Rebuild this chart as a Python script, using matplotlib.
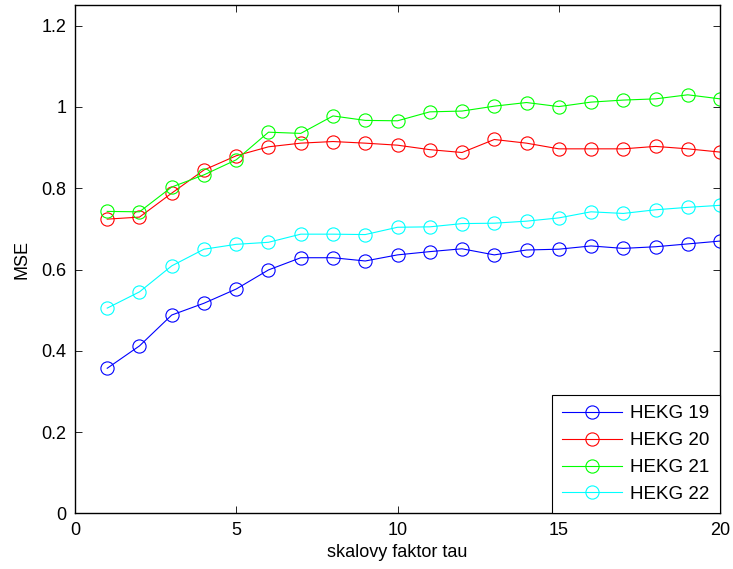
import matplotlib
matplotlib.use("Agg")
import matplotlib.pyplot as plt
from matplotlib.ticker import FixedLocator, FuncFormatter

plt.rcParams['font.family'] = ['Liberation Sans', 'DejaVu Sans']

tau = list(range(1, 21))
hekg19 = [0.357, 0.412, 0.488, 0.517, 0.552, 0.599, 0.629, 0.629, 0.621, 0.636,
          0.644, 0.651, 0.636, 0.648, 0.650, 0.658, 0.652, 0.656, 0.663, 0.670]
hekg20 = [0.724, 0.729, 0.788, 0.845, 0.880, 0.902, 0.911, 0.915, 0.911, 0.906,
          0.895, 0.888, 0.920, 0.911, 0.897, 0.897, 0.897, 0.903, 0.897, 0.889]
hekg21 = [0.743, 0.742, 0.803, 0.833, 0.870, 0.938, 0.935, 0.978, 0.967, 0.966,
          0.988, 0.990, 1.002, 1.011, 1.001, 1.012, 1.017, 1.020, 1.030, 1.020]
hekg22 = [0.505, 0.545, 0.609, 0.650, 0.662, 0.667, 0.687, 0.687, 0.686, 0.704,
          0.705, 0.713, 0.714, 0.719, 0.727, 0.742, 0.738, 0.747, 0.753, 0.758]
labels = ['HEKG 19', 'HEKG 20', 'HEKG 21', 'HEKG 22']
colors = ['#0000ff', '#ff0000', '#00ff00', '#00ffff']
xticks = [0, 5, 10, 15, 20]
yticks = [0, 0.2, 0.4, 0.6, 0.8, 1.0, 1.2]

fig = plt.figure(figsize=(7.33, 5.69), dpi=100)
ax = fig.add_axes([0.1023, 0.0979, 0.88, 0.8933])

for series, lab, col in zip([hekg19, hekg20, hekg21, hekg22], labels, colors):
    ax.plot(tau, series, color=col, linewidth=0.8, marker='o', markersize=9.5,
            markerfacecolor='none', markeredgecolor=col, markeredgewidth=0.8, label=lab)

ax.set_xlim(0, 20)
ax.set_ylim(0, 1.251)
ax.xaxis.set_major_locator(FixedLocator(xticks))
ax.yaxis.set_major_locator(FixedLocator(yticks))
ax.yaxis.set_major_formatter(FuncFormatter(lambda v, p: ('%g' % round(v, 2))))
ax.tick_params(direction='in', top=True, right=True, length=5, width=0.6, labelsize=13, pad=6)
for s in ax.spines.values():
    s.set_linewidth(1.0)

ax.set_xlabel('skalovy faktor tau', fontsize=13, labelpad=4)
ax.set_ylabel('MSE', fontsize=13, labelpad=8)

leg = ax.legend(loc='lower right', fontsize=13.5, fancybox=False, framealpha=1,
                edgecolor='black', borderaxespad=0, handlelength=3.2, handletextpad=0.45,
                borderpad=0.55, labelspacing=0.52)
leg.get_frame().set_linewidth(0.8)

fig.savefig('out.png', dpi=100)
